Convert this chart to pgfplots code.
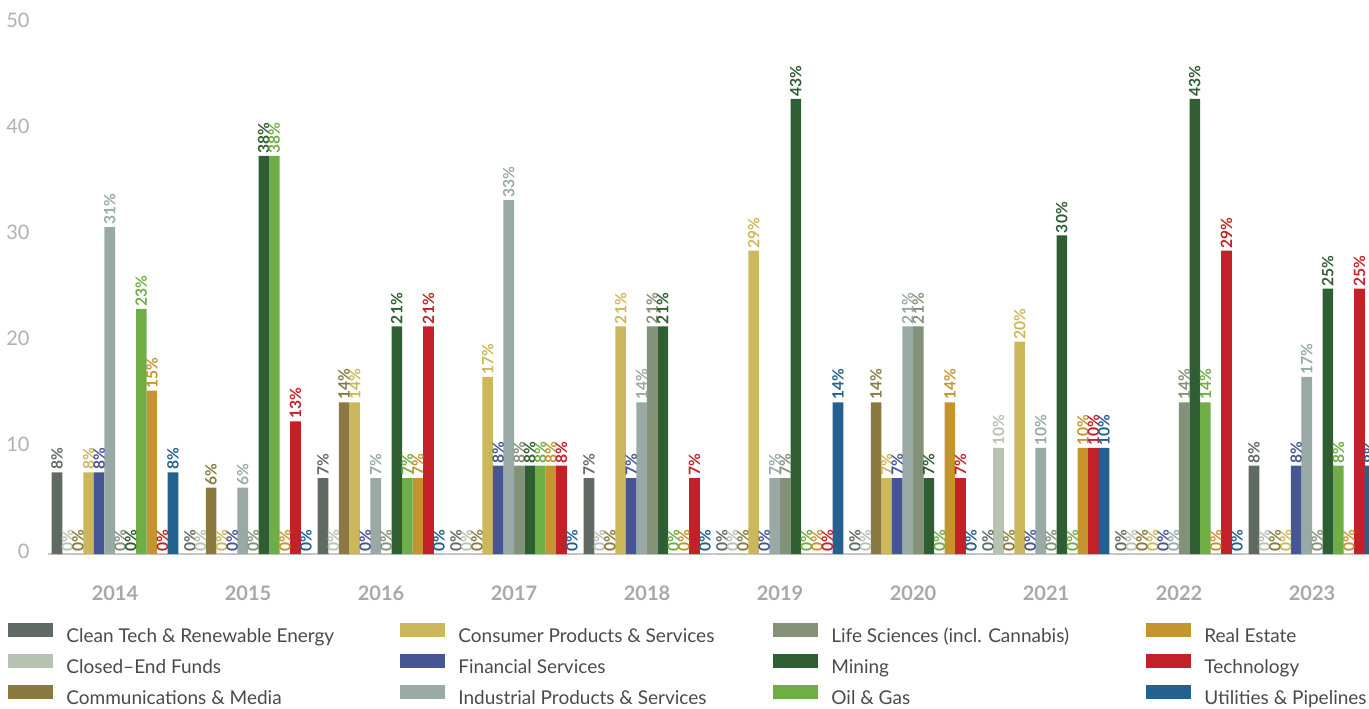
\documentclass[border=0pt]{standalone}
\usepackage{pgfplots}
\pgfplotsset{compat=1.18}
\usepackage{fontspec}
\setmainfont{Lato}
\definecolor{cClean}{HTML}{5F6B62}
\definecolor{cClosed}{HTML}{B7C2B0}
\definecolor{cComm}{HTML}{8A7A40}
\definecolor{cCons}{HTML}{CDB75B}
\definecolor{cFin}{HTML}{465594}
\definecolor{cInd}{HTML}{99AAA6}
\definecolor{cLife}{HTML}{849179}
\definecolor{cMin}{HTML}{2E5E31}
\definecolor{cOil}{HTML}{6FAD45}
\definecolor{cRE}{HTML}{C4952E}
\definecolor{cTech}{HTML}{C42027}
\definecolor{cUtil}{HTML}{23618E}
\definecolor{legtext}{HTML}{4A4A4A}
\definecolor{ticktext}{HTML}{B0B0B0}
\definecolor{yeartext}{HTML}{A8A8A8}
\definecolor{baseln}{HTML}{C8C8C8}
\pgfplotsset{
  /pgf/number format/assume math mode=true,
  mybar/.style 2 args={ybar, bar width=0.08, bar shift=#2, fill=#1, draw=none,
    nodes near coords={\pgfmathprintnumber[fixed,precision=0]{\pgfplotspointmeta}\%},
    every node near coord/.append style={xshift={#2*66.5pt}, color=#1, rotate=90, anchor=west, inner sep=1pt,
      font=\fontsize{7.8}{8}\selectfont\bfseries},
    legend image code/.code={\fill[##1] (0pt,-0.25pt) rectangle (22.5pt,6.75pt);}},
}
\newcommand{\LA}[1]{\makebox[167pt][l]{#1}}
\newcommand{\LB}[1]{\makebox[157.5pt][l]{#1}}
\begin{document}
\begin{tikzpicture}
\begin{axis}[
  at={(0,0)}, anchor=south west,
  scale only axis, width=660.25pt, height=265.5pt,
  xmin=-0.5, xmax=9.4286, ymin=0, ymax=50,
  xtick={0,...,9}, xticklabels={2014,2015,2016,2017,2018,2019,2020,2021,2022,2023},
  ytick={0,10,...,50},
  axis x line*=bottom, axis y line*=left,
  axis line style={-},
  x axis line style={draw=baseln, line width=1.3pt},
  y axis line style={draw=none},
  tick style={draw=none}, major tick length=0pt,
  xticklabel style={font=\fontsize{10}{12}\selectfont\bfseries, color=yeartext, anchor=center, inner sep=0pt, yshift=-19.5pt},
  yticklabel style={font=\fontsize{10}{12}\selectfont, color=ticktext, anchor=east, inner sep=0pt, xshift=-9.25pt, yshift=1.5pt},
  legend columns=4,
  legend style={at={(-0.03067,-0.1252)}, anchor=north west, draw=none, fill=none, inner sep=0pt,
    column sep=6.5pt, /tikz/every even column/.append style={column sep=0pt}, row sep=0pt,
    nodes={inner sep=0pt, text height=11pt, text depth=4.5pt, font=\fontsize{9.5}{11}\selectfont, text=legtext}},
]
% Row 1 of legend
\addplot[mybar={cClean}{-0.43615}] coordinates {(0,7.69) (1,0) (2,7.14) (3,0) (4,7.14) (5,0) (6,0) (7,0) (8,0) (9,8.33)};
\addlegendentry{\LA{Clean Tech \& Renewable Energy}}
\addplot[mybar={cCons}{-0.19825}] coordinates {(0,7.69) (1,0) (2,14.29) (3,16.67) (4,21.43) (5,28.57) (6,7.14) (7,20) (8,0) (9,0)};
\addlegendentry{\LB{Consumer Products \& Services}}
\addplot[mybar={cLife}{0.03965}] coordinates {(0,0) (1,0) (2,0) (3,8.33) (4,21.43) (5,7.14) (6,21.43) (7,0) (8,14.29) (9,0)};
\addlegendentry{\LB{Life Sciences (incl. Cannabis)}}
\addplot[mybar={cRE}{0.27755}] coordinates {(0,15.38) (1,0) (2,7.14) (3,8.33) (4,0) (5,0) (6,14.29) (7,10) (8,0) (9,0)};
\addlegendentry{\LB{Real Estate}}
% Row 2
\addplot[mybar={cClosed}{-0.35685}] coordinates {(0,0) (1,0) (2,0) (3,0) (4,0) (5,0) (6,0) (7,10) (8,0) (9,0)};
\addlegendentry{\LA{Closed–End Funds}}
\addplot[mybar={cFin}{-0.11895}] coordinates {(0,7.69) (1,0) (2,0) (3,8.33) (4,7.14) (5,0) (6,7.14) (7,0) (8,0) (9,8.33)};
\addlegendentry{\LB{Financial Services}}
\addplot[mybar={cMin}{0.11895}] coordinates {(0,0) (1,37.5) (2,21.43) (3,8.33) (4,21.43) (5,42.86) (6,7.14) (7,30) (8,42.86) (9,25)};
\addlegendentry{\LB{Mining}}
\addplot[mybar={cTech}{0.35685}] coordinates {(0,0) (1,12.5) (2,21.43) (3,8.33) (4,7.14) (5,0) (6,7.14) (7,10) (8,28.57) (9,25)};
\addlegendentry{\LB{Technology}}
% Row 3
\addplot[mybar={cComm}{-0.27755}] coordinates {(0,0) (1,6.25) (2,14.29) (3,0) (4,0) (5,0) (6,14.29) (7,0) (8,0) (9,0)};
\addlegendentry{\LA{Communications \& Media}}
\addplot[mybar={cInd}{-0.03965}] coordinates {(0,30.77) (1,6.25) (2,7.14) (3,33.33) (4,14.29) (5,7.14) (6,21.43) (7,10) (8,0) (9,16.67)};
\addlegendentry{\LB{Industrial Products \& Services}}
\addplot[mybar={cOil}{0.19825}] coordinates {(0,23.08) (1,37.5) (2,7.14) (3,8.33) (4,0) (5,0) (6,0) (7,0) (8,14.29) (9,8.33)};
\addlegendentry{\LB{Oil \& Gas}}
\addplot[mybar={cUtil}{0.43615}] coordinates {(0,7.69) (1,0) (2,0) (3,0) (4,0) (5,14.29) (6,0) (7,10) (8,0) (9,8.33)};
\addlegendentry{\LB{Utilities \& Pipelines}}
\end{axis}
\pgfresetboundingbox
\path[use as bounding box] (-24.25pt,-77pt) rectangle (660.25pt,277pt);
\end{tikzpicture}
\end{document}
